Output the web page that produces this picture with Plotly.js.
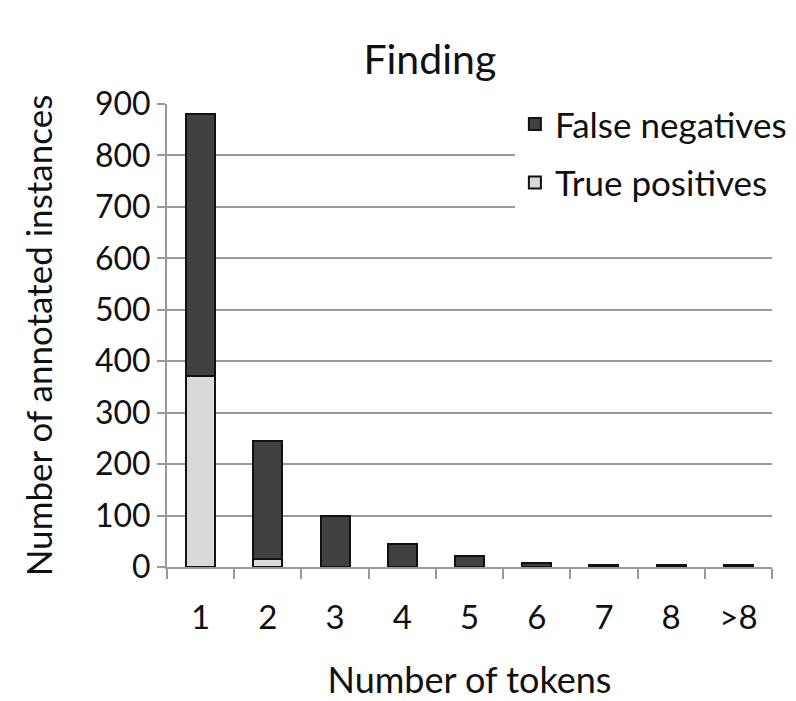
<!DOCTYPE html>
<html>
<head>
<meta charset="utf-8">
<script src="https://cdn.plot.ly/plotly-3.0.1.min.js"></script>
<style>html,body{margin:0;padding:0;background:#fff;}#chart{width:796px;height:701px;}</style>
</head>
<body>
<div id="chart"></div>
<script>
const categories = ["1", "2", "3", "4", "5", "6", "7", "8", ">8"];
const truePositives = [372, 15, 0, 0, 0, 0, 0, 0, 0];
const falseNegatives = [508, 230, 99, 45, 21, 7, 4, 4, 4];
const yTicks = [0, 100, 200, 300, 400, 500, 600, 700, 800, 900];

const FONT = "Lato, 'Open Sans', sans-serif";

const traces = [
  {
    type: "bar", name: "True positives", x: categories, y: truePositives, legendgroup: "tp", legendrank: 2,
    marker: {color: "#d9d9d9", line: {color: "#111", width: 2}}
  },
  {
    type: "bar", name: "False negatives", x: categories, y: falseNegatives, legendgroup: "fn", legendrank: 1,
    marker: {color: "#404040", line: {color: "#111", width: 2}}
  }
];

const layout = {
  width: 796, height: 701,
  paper_bgcolor: "#fff", plot_bgcolor: "#fff",
  margin: {l: 167, r: 24, t: 104, b: 134, autoexpand: false},
  barmode: "stack", bargap: 0.57,
  showlegend: true,
  title: {text: "Finding", font: {family: FONT, size: 41, color: "#111"}, x: 0.54, xanchor: "center", y: 0.915, yanchor: "middle"},
  font: {family: FONT, color: "#111"},
  xaxis: {
    type: "category", tickson: "boundaries", ticks: "outside", ticklen: 10, tickwidth: 2, tickcolor: "#999",
    showline: true, linecolor: "#999", linewidth: 2, showgrid: false,
    ticklabelstandoff: 20,
    tickfont: {family: FONT, size: 33, color: "#111"},
    title: {text: "Number of tokens", font: {family: FONT, size: 36, color: "#111"}, standoff: 36}
  },
  yaxis: {
    range: [0, 900], tickvals: yTicks, ticks: "outside", ticklen: 8, tickwidth: 2, tickcolor: "#999",
    showline: true, linecolor: "#999", linewidth: 2,
    showgrid: true, gridcolor: "#999", gridwidth: 2, zeroline: false,
    tickfont: {family: FONT, size: 32, color: "#111"},
    title: {text: "Number of annotated instances", font: {family: FONT, size: 35, color: "#111"}, standoff: 32}
  },
  legend: {
    x: 0.575, y: 1.02, xanchor: "left", yanchor: "top",
    bgcolor: "#fff", traceorder: "grouped",
    font: {family: FONT, size: 35, color: "#111"},
    itemwidth: 30, tracegroupgap: 10
  }
};

Plotly.newPlot("chart", traces, layout, {displayModeBar: false, staticPlot: true});
</script>
</body>
</html>
